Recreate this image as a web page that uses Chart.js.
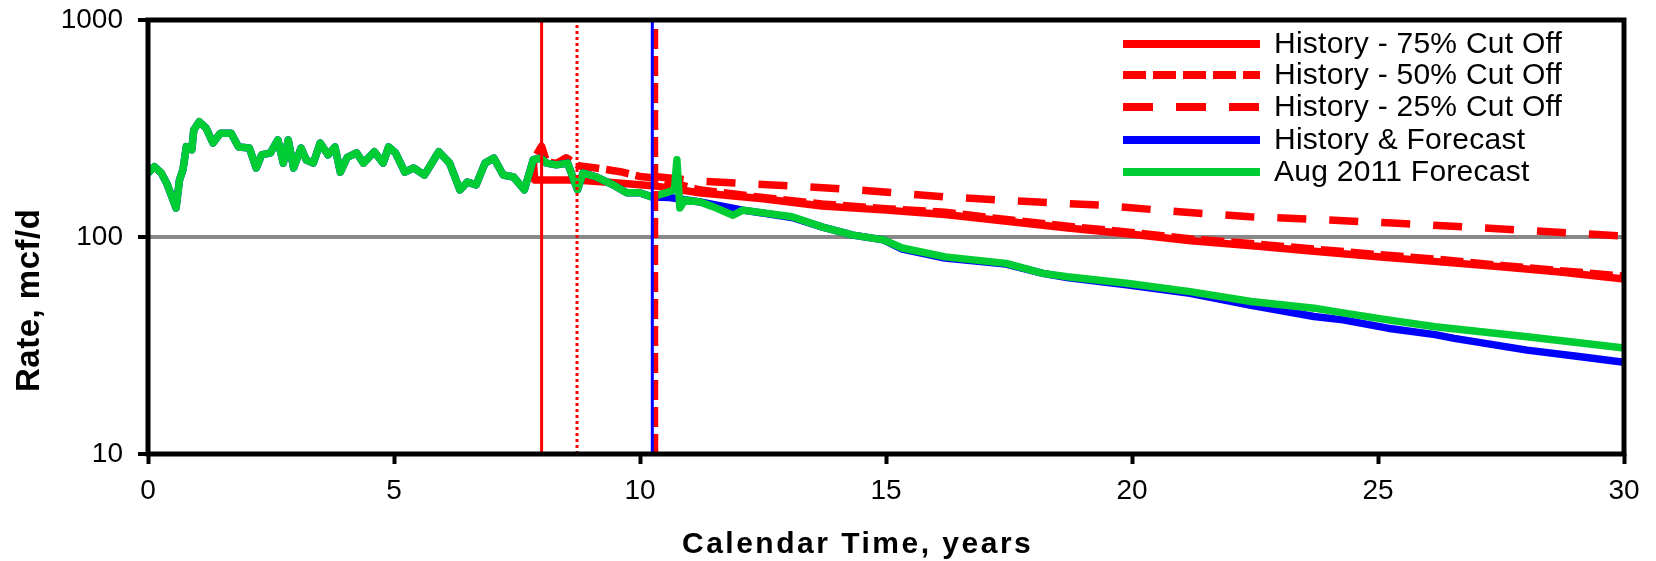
<!DOCTYPE html>
<html>
<head>
<meta charset="utf-8">
<title>Rate vs Calendar Time</title>
<script src="https://cdn.jsdelivr.net/npm/chart.js@4.4.1/dist/chart.umd.min.js"></script>
<style>
  html, body { margin: 0; padding: 0; background: #fff; }
  #wrap { width: 1656px; height: 561px; position: relative; }
</style>
</head>
<body>
<div id="wrap"><canvas id="chart"></canvas></div>
<script>
// production history (shared by the blue and green curves)
const historyYears = [0, 0.13, 0.27, 0.38, 0.57, 0.64, 0.71, 0.78, 0.89, 0.93, 1.04, 1.18, 1.32, 1.47, 1.69, 1.84,
  2.06, 2.2, 2.31, 2.49, 2.64, 2.75, 2.85, 2.96, 3.11, 3.22, 3.36, 3.5, 3.66, 3.8, 3.91, 4.05, 4.24, 4.38, 4.6, 4.78,
  4.89, 5.03, 5.22, 5.4, 5.62, 5.91, 6.13, 6.34, 6.49, 6.67, 6.85, 7.03, 7.22, 7.43, 7.65, 7.83, 7.98, 8.1, 8.3,
  8.53, 8.73, 8.84, 9.12, 9.45, 9.73, 9.99, 10.24];
const historyRates = [197, 211, 197, 177, 136, 183, 204, 261, 252, 311, 340, 318, 271, 301, 301, 260,
  257, 208, 239, 244, 280, 219, 280, 208, 257, 226, 219, 271, 239, 260, 199, 233, 244, 219, 247, 219,
  260, 244, 199, 208, 193, 247, 219, 165, 179, 174, 219, 231, 193, 189, 165, 227, 231, 219, 215,
  219, 165, 197, 189, 174, 160, 160, 153];

// Aug 2011 forecast (green) after the shared history
const greenYears = [10.54, 10.7, 10.75, 10.81, 10.91, 11.22, 11.48, 11.89, 12.09, 13.09, 13.71, 14.33, 14.95,
  15.33, 16.2, 17.44, 18.19, 18.68, 19.93, 21.18, 22.42, 23.7, 24.29, 25.2, 26.16, 27.1, 28.03, 29.0, 30];
const greenRates = [160, 165, 227, 136, 148, 145, 138, 126, 133, 124, 111, 102, 97,
  89, 81, 75.6, 68, 65.6, 61, 56, 50.4, 47, 44.7, 41.5, 38.6, 36.6, 34.7, 32.7, 30.8];

// History & Forecast (blue) after the shared history
const blueYears = [10.6, 11.22, 12.09, 13.09, 13.71, 14.33, 14.95, 15.33, 16.2, 17.44, 18.19, 18.68, 19.93,
  21.18, 22.42, 23.7, 24.29, 25.2, 26.16, 26.55, 28.03, 29.0, 30];
const blueRates = [152, 145, 133, 123, 111, 102, 97, 88, 80, 75, 68, 65, 60,
  55, 48.5, 43, 41.5, 38, 35.5, 34.1, 30.1, 28.3, 26.5];

// cut-off forecasts (red)
const cut75Years = [7.83, 7.86, 8.0, 8.7, 9.5, 10.3, 11.2, 12.5, 13.7, 15.0, 16.2, 17.5, 18.7, 20.0, 21.2,
  22.5, 23.7, 25.0, 26.2, 27.5, 28.7, 30];
const cut75Rates = [227, 183, 183, 183, 178, 172, 160, 150, 139, 133, 127, 118, 110, 103, 96,
  91, 86, 81, 77, 73, 69, 64];
const cut50Years = [7.9, 8.0, 8.1, 8.3, 8.5, 8.75, 9.1, 9.6, 10.0, 10.3, 11.2, 12.5, 13.7, 15.0, 16.2, 17.5,
  18.7, 20.0, 21.2, 22.5, 23.7, 25.0, 26.2, 27.5, 28.7, 30];
const cut50Rates = [240, 262, 222, 218, 232, 213, 208, 200, 190, 187, 165, 152, 142, 135, 130, 120,
  112, 105, 98, 93, 88, 83, 79, 74, 70, 66];
const cut25Years = [10.3, 11.2, 12.2, 13.3, 14.7, 16.2, 17.8, 19.4, 20.9, 22.4, 23.9, 25.3, 26.9, 28.4, 30];
const cut25Rates = [190, 181, 176, 171, 163, 153, 146, 140, 131, 124, 120, 116, 111, 106, 101];

// vertical cut-off markers
const cutoffYears = [8.0, 8.72, 10.25, 10.32];

const seriesLabels = ['History - 75% Cut Off', 'History - 50% Cut Off', 'History - 25% Cut Off',
  'History & Forecast', 'Aug 2011 Forecast'];
const yTicks = [10, 100, 1000];
const xTitle = 'Calendar Time, years';
const yTitle = 'Rate, mcf/d';

const FONT = "'Liberation Sans', Arial, sans-serif";

function pts(xs, ys) {
  return xs.map((x, i) => ({ x: x, y: ys[i] }));
}

const greenData = pts(historyYears, historyRates).concat(pts(greenYears, greenRates));
const blueData = pts(historyYears, historyRates).concat(pts(blueYears, blueRates));

const vStyles = [
  { color: '#ff0000', width: 3, dash: [] },
  { color: '#ff0000', width: 3, dash: [3, 3] },
  { color: '#0000ff', width: 3, dash: [] },
  { color: '#ff0000', width: 5, dash: [20, 7] }
];

const datasets = [
  { label: seriesLabels[0], data: pts(cut75Years, cut75Rates), borderColor: '#ff0000', borderWidth: 7.5, borderDash: [], order: 4 },
  { label: seriesLabels[1], data: pts(cut50Years, cut50Rates), borderColor: '#ff0000', borderWidth: 7.5, borderDash: [23, 7], order: 3 },
  { label: seriesLabels[2], data: pts(cut25Years, cut25Rates), borderColor: '#ff0000', borderWidth: 7.5, borderDash: [29, 23], order: 2 },
  { label: seriesLabels[3], data: blueData, borderColor: '#0000ff', borderWidth: 7.5, borderDash: [], order: 1 },
  { label: seriesLabels[4], data: greenData, borderColor: '#00cc33', borderWidth: 7.5, borderDash: [], order: 0 }
];

cutoffYears.forEach((yr, i) => {
  datasets.push({
    label: 'cutoff' + i,
    data: [{ x: yr, y: yTicks[0] }, { x: yr, y: yTicks[yTicks.length - 1] }],
    borderColor: vStyles[i].color,
    borderWidth: vStyles[i].width,
    borderDash: vStyles[i].dash,
    borderCapStyle: 'butt',
    order: -1
  });
});

const legendDash = [[], [23, 7], [30, 23], [], []];

const decorPlugin = {
  id: 'decor',
  afterDatasetsDraw(chart) {
    const { ctx, chartArea: a } = chart;
    ctx.save();
    // legend inside the plot, top right
    const rows = [44, 75, 107, 140, 172];
    for (let i = 0; i < 5; i++) {
      const ds = chart.data.datasets[i];
      ctx.beginPath();
      ctx.setLineDash(legendDash[i]);
      ctx.lineCap = 'butt';
      ctx.lineWidth = 8;
      ctx.strokeStyle = ds.borderColor;
      ctx.moveTo(1123, rows[i]);
      ctx.lineTo(1260, rows[i]);
      ctx.stroke();
      ctx.setLineDash([]);
      ctx.fillStyle = '#000';
      ctx.font = '30px ' + FONT;
      ctx.letterSpacing = '0.25px';
      ctx.textAlign = 'left';
      ctx.textBaseline = 'middle';
      ctx.fillText(ds.label, 1274, rows[i] + 1);
    }
    // plot frame
    ctx.letterSpacing = '0px';
    ctx.lineWidth = 5;
    ctx.strokeStyle = '#000';
    ctx.strokeRect(a.left, a.top, a.right - a.left, a.bottom - a.top);
    ctx.restore();
  },
  afterDraw(chart) {
    const ctx = chart.ctx;
    ctx.save();
    ctx.fillStyle = '#000';
    ctx.textAlign = 'left';
    ctx.textBaseline = 'middle';
    ctx.font = 'bold 30px ' + FONT;
    ctx.letterSpacing = '2.5px';
    ctx.fillText(xTitle, 682, 545);
    ctx.restore();
    ctx.save();
    ctx.fillStyle = '#000';
    ctx.textAlign = 'left';
    ctx.textBaseline = 'alphabetic';
    ctx.translate(39, 392);
    ctx.rotate(-Math.PI / 2);
    ctx.font = 'bold 33px ' + FONT;
    ctx.letterSpacing = '0.5px';
    ctx.fillText(yTitle, 0, 0);
    ctx.restore();
  }
};

new Chart(document.getElementById('chart'), {
  type: 'line',
  data: { datasets: datasets },
  options: {
    responsive: true,
    maintainAspectRatio: false,
    animation: false,
    elements: {
      point: { radius: 0 },
      line: { tension: 0, borderJoinStyle: 'round', borderCapStyle: 'butt', fill: false }
    },
    layout: { padding: { left: 0, top: 20, right: 32, bottom: 0 } },
    plugins: {
      legend: { display: false },
      tooltip: { enabled: false }
    },
    scales: {
      x: {
        type: 'linear',
        min: 0,
        max: 30,
        afterFit(scale) { scale.height = 107; },
        border: { display: false },
        grid: {
          display: true,
          drawOnChartArea: false,
          color: 'rgba(0,0,0,0)',
          tickColor: '#000',
          tickLength: 10,
          tickWidth: 4
        },
        ticks: {
          stepSize: 5,
          padding: 10,
          color: '#000',
          maxRotation: 0,
          font: { family: FONT, size: 28 }
        }
      },
      y: {
        type: 'logarithmic',
        min: yTicks[0],
        max: yTicks[yTicks.length - 1],
        afterFit(scale) {
          scale.width = 148;
          scale.paddingTop = 0;
          scale.paddingBottom = 0;
        },
        afterBuildTicks(scale) { scale.ticks = yTicks.map(v => ({ value: v })); },
        border: { display: false },
        grid: {
          display: true,
          color: ctx => (ctx.tick && ctx.tick.value === 100 ? '#888888' : 'rgba(0,0,0,0)'),
          lineWidth: 4,
          tickColor: '#000',
          tickLength: 10,
          tickWidth: 4
        },
        ticks: {
          padding: 15,
          color: '#000',
          font: { family: FONT, size: 28 },
          callback: v => String(v)
        }
      }
    }
  },
  plugins: [decorPlugin]
});
</script>
</body>
</html>
